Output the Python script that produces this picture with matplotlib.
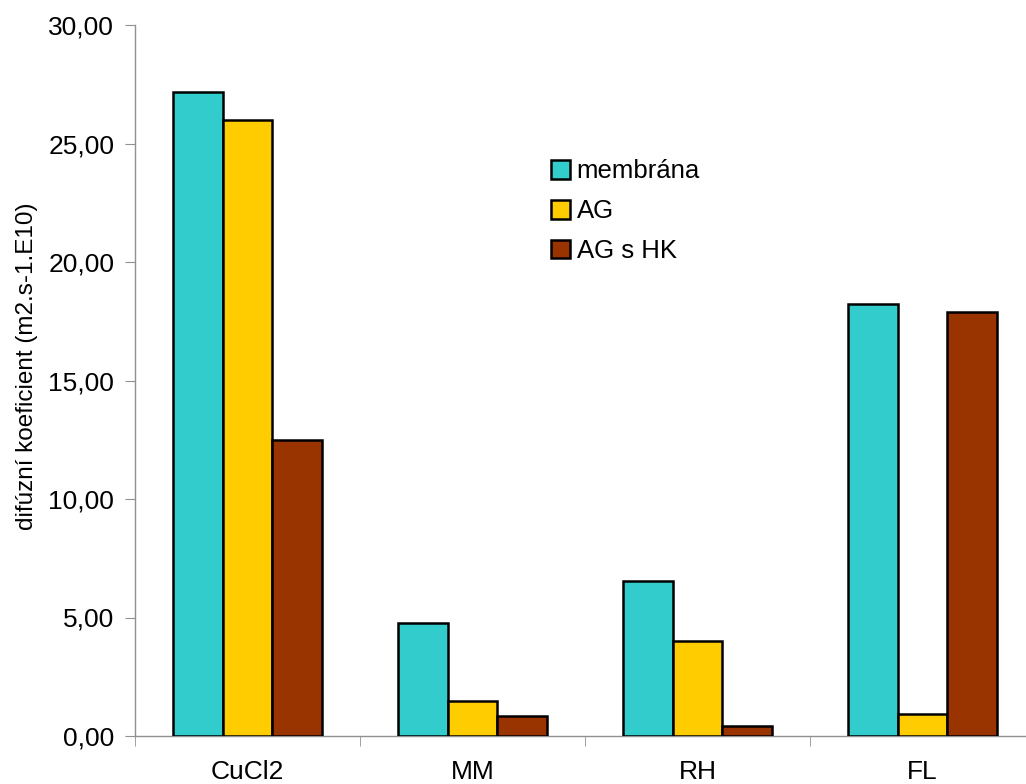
import matplotlib.pyplot as plt
import numpy as np

plt.rcParams['font.family'] = ['Liberation Sans', 'DejaVu Sans']

# Data
categories = ['CuCl2', 'MM', 'RH', 'FL']
membrana = [27.17, 4.77, 6.54, 18.23]
ag = [25.99, 1.48, 4.01, 0.93]
ag_hk = [12.49, 0.84, 0.42, 17.89]
series_names = ['membrána', 'AG', 'AG s HK']
colors = ['#33CCCC', '#FFCC00', '#993300']

fig = plt.figure(figsize=(10.26, 7.84), dpi=100)
ax = fig.add_axes([135 / 1026, 1 - 736 / 784, 900 / 1026, 711 / 784])

x = np.arange(len(categories))
width = 0.222
for i, (vals, name, c) in enumerate(zip([membrana, ag, ag_hk], series_names, colors)):
    ax.bar(x + (i - 1) * width, vals, width, color=c, edgecolor='black',
           linewidth=1.8, label=name, zorder=3)

ax.set_xlim(-0.5, len(categories) - 0.5)
ax.set_ylim(0, 30)
ax.set_yticks(np.arange(0, 30.1, 5))
ax.set_yticklabels([f'{v:.2f}'.replace('.', ',') for v in np.arange(0, 30.1, 5)])
ax.set_xticks(x)
ax.set_xticklabels(categories)
ax.set_xticks(np.arange(-0.5, len(categories), 1), minor=True)
ax.tick_params(axis='x', which='major', length=0, pad=17, labelsize=19)
ax.tick_params(axis='x', which='minor', length=7, color='#909090', direction='out')
ax.tick_params(axis='y', length=7, color='#909090', labelsize=19, pad=8)

for side in ['top', 'right']:
    ax.spines[side].set_visible(False)
for side in ['left', 'bottom']:
    ax.spines[side].set_color('#909090')
    ax.spines[side].set_linewidth(1)

ax.set_ylabel('difúzní koeficient (m2.s-1.E10)', fontsize=17.5)
ax.yaxis.set_label_coords(-0.108, 0.52)

leg = ax.legend(loc='upper left', bbox_to_anchor=(528 / 1026, 1 - 136 / 784),
                bbox_transform=fig.transFigure, frameon=False, fontsize=18.5,
                handlelength=0.75, handleheight=0.75, handletextpad=0.25,
                labelspacing=0.62)

fig.savefig('out.png', dpi=100)
